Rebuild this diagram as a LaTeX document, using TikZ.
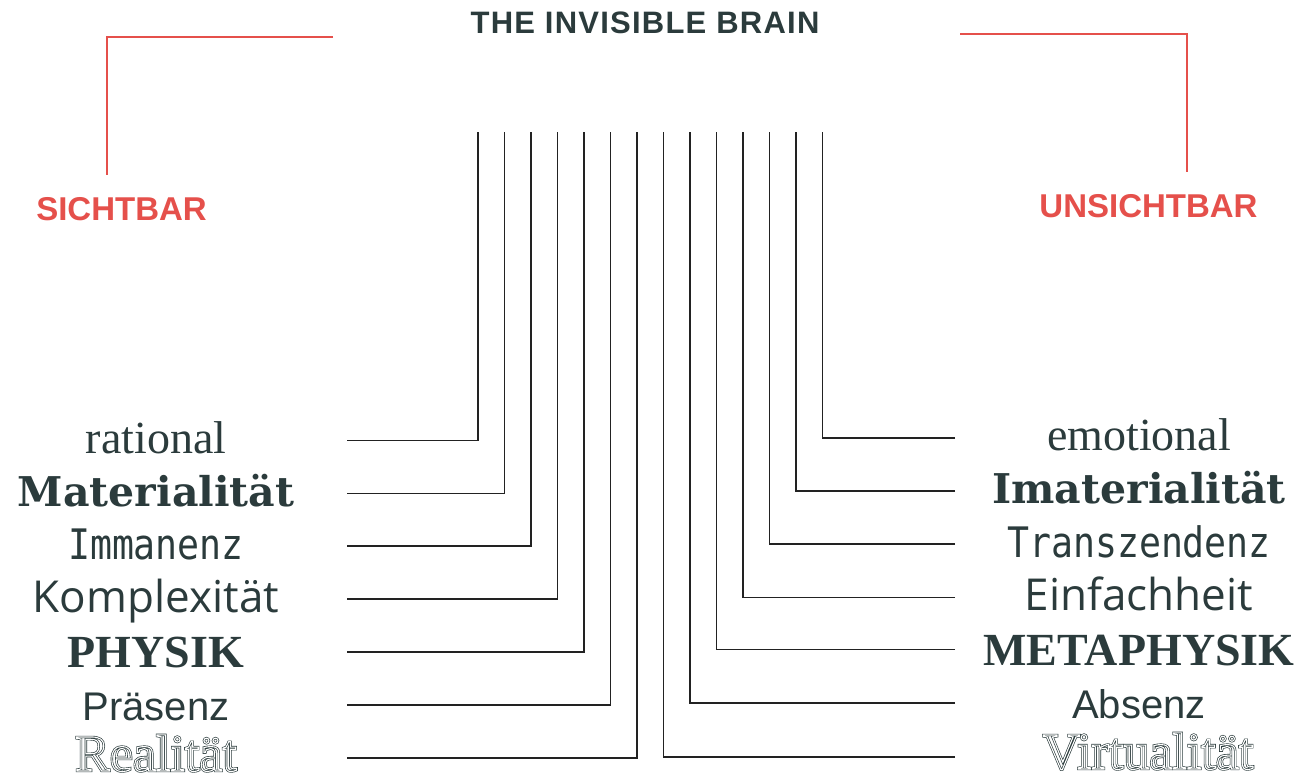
\documentclass[tikz,border=0pt]{standalone}
\usepackage{fontspec}
\usepackage{graphicx}
\setmainfont{Liberation Serif}
\newfontfamily\slabf{DejaVu Serif}
\newfontfamily\monof{DejaVu Sans Mono}
\newfontfamily\lightf{Open Sans}
\newfontfamily\sansf{Liberation Sans}
\newfontfamily\titlef{Liberation Sans}[LetterSpace=4]
\definecolor{ink}{HTML}{2B3B3C}
\definecolor{redl}{HTML}{E5504B}
\definecolor{wirec}{HTML}{222222}
\tikzset{
  lbl/.style={anchor=base,inner sep=0pt,text=ink},
  title/.style={lbl,font=\titlef\bfseries\fontsize{31}{31}\selectfont},
  side/.style={lbl,text=redl,font=\sansf\bfseries\fontsize{33}{33}\selectfont},
  fserif/.style={lbl,font=\fontsize{46}{46}\selectfont},
  fslab/.style={lbl,font=\slabf\bfseries\fontsize{41}{41}\selectfont},
  fmono/.style={lbl,font=\monof\fontsize{42}{42}\selectfont},
  flight/.style={lbl,font=\lightf\fontsize{44}{44}\selectfont},
  fbold/.style={lbl,font=\bfseries\fontsize{46}{46}\selectfont},
  fsans/.style={lbl,font=\sansf\fontsize{40}{40}\selectfont},
  foutl/.style={lbl,font=\fontsize{52}{52}\selectfont},
  wire/.style={draw=wirec,line width=1.6pt},
  bracket/.style={draw=redl,line width=1.5pt}
}
% inline letters: a wide stroke, then a thin white stroke on top
\newcommand{\outl}[1]{\rlap{\special{pdf:literal direct 1 Tr 2.4 w}#1}{\color{white}\special{pdf:literal direct 1 Tr 1.1 w}#1}\special{pdf:literal direct 0 Tr}}
\newcommand{\narrow}[1]{\scalebox{0.87}[1]{#1}}

\begin{document}
\begin{tikzpicture}[x=1pt,y=-1pt]
\useasboundingbox (0,0) rectangle (1303,781);
% ---------------- head ----------------
\node[title] (brain) at (645,34) {THE INVISIBLE BRAIN};
\node[side] (sicht) at (121.5,220) {SICHTBAR};
\node[side] (unsicht) at (1148.5,217) {UNSICHTBAR};
\coordinate (sl) at (333,37);\coordinate (sld) at (107,175);
\coordinate (sr) at (960,34);\coordinate (srd) at (1187,172);
\draw[bracket] (sl) -| (sld);
\draw[bracket] (sr) -| (srd);
% ---------------- left column ----------------
\node[fserif] (l1) at (156,453) {rational};
\node[fslab] (l2) at (156,506) {Materialität};
\node[fmono] (l3) at (156,559) {\narrow{Immanenz}};
\node[flight] (l4) at (156,612) {Komplexität};
\node[fbold] (l5) at (156,667) {PHYSIK};
\node[fsans] (l6) at (156,720) {Präsenz};
\node[foutl] (l7) at (156,771) {\outl{Realität}};
% ---------------- right column ----------------
\node[fserif] (r1) at (1139,450) {emotional};
\node[fslab] (r2) at (1139,503) {Imaterialität};
\node[fmono] (r3) at (1139,557) {\narrow{Transzendenz}};
\node[flight] (r4) at (1139,610) {Einfachheit};
\node[fbold] (r5) at (1139,665) {METAPHYSIK};
\node[fsans] (r6) at (1139,718) {Absenz};
\node[foutl] (r7) at (1148,769) {\outl{Virtualität}};
% ---------------- wires ----------------
\foreach \i/\x/\y in {1/478/440.5,2/504.5/493.5,3/531/546,4/557.5/599,5/584/652,6/610.5/705,7/637/758}{
  \coordinate (la\i) at (347,\y);\coordinate (lt\i) at (\x,132);
  \draw[wire] (la\i) -| (lt\i);
}
\foreach \i/\x/\y in {1/822.5/438,2/796/491,3/769.5/544,4/743/597.5,5/716.5/649.5,6/690/703,7/663.5/757}{
  \coordinate (ra\i) at (955,\y);\coordinate (rt\i) at (\x,132);
  \draw[wire] (ra\i) -| (rt\i);
}
\end{tikzpicture}
\end{document}
